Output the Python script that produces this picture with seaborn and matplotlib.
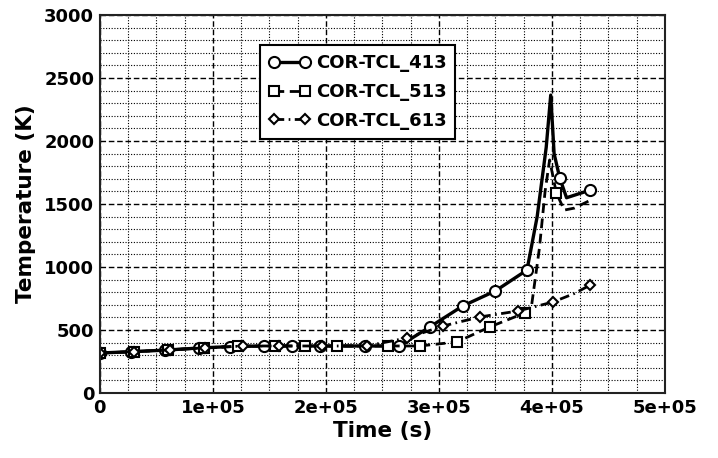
import numpy as np
import pandas as pd
import seaborn as sns
import matplotlib
matplotlib.use("Agg")
import matplotlib.pyplot as plt
from matplotlib.lines import Line2D
from matplotlib.ticker import MultipleLocator

sns.set_style("ticks")
plt.rcParams['font.family'] = ['DejaVu Sans']
plt.rcParams['text.color'] = 'black'
plt.rcParams['axes.labelcolor'] = 'black'
plt.rcParams['xtick.color'] = 'black'
plt.rcParams['ytick.color'] = 'black'

# data
t413 = [0, 28e3, 58e3, 88e3, 115e3, 145e3, 170e3, 195e3, 235e3, 265e3, 292e3,
        321e3, 350e3, 378e3, 387e3, 395e3, 399e3, 402e3, 407e3, 413e3, 434e3]
T413 = [317, 328, 340, 357, 368, 373, 373, 373, 373, 373, 524,
        690, 810, 976, 1400, 1950, 2365, 1900, 1706, 1550, 1611]

t513 = [0, 30e3, 60e3, 92e3, 122e3, 155e3, 182e3, 210e3, 255e3, 283e3, 316e3,
        345e3, 376e3, 382e3, 389e3, 394e3, 398e3, 404e3, 411e3, 420e3, 434e3]
T513 = [317, 328, 342, 358, 370, 373, 373, 373, 373, 373, 405,
        524, 635, 690, 1150, 1600, 1850, 1587, 1452, 1468, 1530]

t613 = [0, 30e3, 62e3, 93e3, 127e3, 159e3, 197e3, 236e3, 272e3, 304e3,
        336e3, 370e3, 401e3, 420e3, 434e3]
T613 = [317, 328, 342, 358, 373, 373, 373, 373, 437, 532,
        603, 651, 722, 790, 857]

names = ["COR-TCL_413", "COR-TCL_513", "COR-TCL_613"]
xtick_labels = ["0", "1e+05", "2e+05", "3e+05", "4e+05", "5e+05"]

fig = plt.figure(figsize=(7.18, 4.58), dpi=100)
ax = fig.add_axes([0.139, 0.142, 0.787, 0.825])

# style per series
styles = [
    dict(marker="o", linestyle="-", lw=2.4, markevery=list(range(14)) + [18, 20]),
    dict(marker="s", linestyle=(0, (3.5, 2)), lw=2.0, markevery=list(range(13)) + [17]),
    dict(marker="D", linestyle=(0, (3.5, 1.6, 0.6, 1.6)), lw=2.0,
         markevery=list(range(13)) + [14]),
]
msizes = [8, 7, 5.5]

series = [(t413, T413), (t513, T513), (t613, T613)]
for (t, T), st, ms in zip(series, styles, msizes):
    df = pd.DataFrame({"Time": t, "Temp": T})
    sns.lineplot(data=df, x="Time", y="Temp", ax=ax, color="black",
                 markerfacecolor="white", markeredgecolor="black",
                 markeredgewidth=1.5, markersize=ms, errorbar=None,
                 sort=False, **st)

ax.set_xlim(0, 5e5)
ax.set_ylim(0, 3000)
ax.xaxis.set_major_locator(MultipleLocator(1e5))
ax.xaxis.set_minor_locator(MultipleLocator(2.5e4))
ax.yaxis.set_major_locator(MultipleLocator(500))
ax.yaxis.set_minor_locator(MultipleLocator(100))
ax.set_xticks([0, 1e5, 2e5, 3e5, 4e5, 5e5])
ax.set_xticklabels(xtick_labels)

ax.grid(which="major", color="black", linestyle=(0, (4, 2)), lw=1.0)
ax.grid(which="minor", color="black", linestyle=(0, (1, 1.5)), lw=0.8)
ax.set_axisbelow(True)

for s in ax.spines.values():
    s.set_linewidth(1.5)
    s.set_color("#222222")
ax.tick_params(which="both", length=0, labelsize=13, pad=4)
for lab in ax.get_xticklabels() + ax.get_yticklabels():
    lab.set_fontweight("bold")

ax.set_xlabel("Time (s)", fontsize=15.5, fontweight="bold", labelpad=3)
ax.set_ylabel("Temperature (K)", fontsize=15.5, fontweight="bold", labelpad=6)

handles = [Line2D([], [], color="black", marker=st["marker"], linestyle=st["linestyle"],
                  lw=st["lw"], markerfacecolor="white", markeredgecolor="black",
                  markeredgewidth=1.5, markersize=ms)
           for st, ms in zip(styles, msizes)]
leg = ax.legend(handles, names, loc="upper left", bbox_to_anchor=(0.283, 0.921),
                borderaxespad=0, prop={"size": 13, "weight": "bold"},
                numpoints=2, handlelength=2.3, handletextpad=0.3,
                fancybox=False, framealpha=1, edgecolor="black",
                borderpad=0.5, labelspacing=0.6)
leg.get_frame().set_linewidth(1.5)

fig.savefig("out.png", dpi=100)
